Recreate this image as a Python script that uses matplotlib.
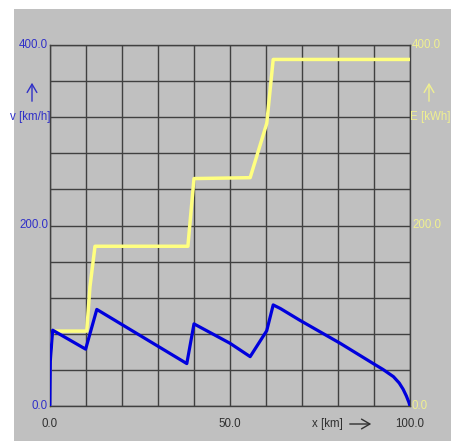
import matplotlib
matplotlib.use("Agg")
import matplotlib.pyplot as plt
from matplotlib.patches import Rectangle

# speed profile v [km/h] over position x [km]
x_v = [0, 0.1, 0.75, 9.9, 13, 38, 40, 50, 55.6, 60.2, 62, 64, 69.4, 80.6, 89.8,
       92.5, 95.4, 97, 98.1, 99, 99.7, 100]
v = [0, 50, 84, 63, 107, 47, 91, 69.5, 54.7, 83.4, 112, 108, 95, 69.5, 47,
     40.5, 32.5, 25.5, 18.5, 11, 4, 0]

# energy E [kWh] over position x [km]
x_e = [0, 0.1, 0.75, 10.2, 11.1, 12.5, 38.3, 40, 55.6, 60.2, 62, 100]
e = [0, 50, 83, 83, 132, 177, 177, 252, 253, 313, 384, 384]

x_ticks = [0, 50, 100]
y_ticks = [0, 200, 400]

W, H = 451, 441
bg = "#c0c0c0"
blue = "#0000dd"
yellow = "#ffff80"
lab_blue = "#3030c8"
lab_yel = "#f0f090"

fig = plt.figure(figsize=(W / 100, H / 100), dpi=100)
fig.patch.set_facecolor("white")
fig.patches.append(Rectangle((14 / W, 0), 1, 1 - 9 / H, transform=fig.transFigure,
                             facecolor=bg, edgecolor="none", zorder=-10))

ax = fig.add_axes([50 / W, 1 - 406 / H, 360 / W, 361 / H])
ax.set_facecolor(bg)
ax.set_xlim(0, 100)
ax.set_ylim(0, 400)
ax.set_xticks([i * 10 for i in range(11)])
ax.set_yticks([i * 40 for i in range(11)])
ax.tick_params(length=0, labelbottom=False, labelleft=False)
ax.grid(True, color="#404040", linewidth=1)
for s in ax.spines.values():
    s.set_color("#404040")
    s.set_linewidth(1)

ax.plot(x_e, e, color=yellow, linewidth=2.5, zorder=3)
ax.plot(x_v, v, color=blue, linewidth=2.3, zorder=4)

font = ["Liberation Sans", "DejaVu Sans"]
fs = 8.3
arrow = "->,head_length=0.6,head_width=0.35"

def px(xp, yp):
    return xp / W, 1 - yp / H

def draw_arrow(x0, y0, x1, y1, color):
    ax.annotate("", xy=(x1, H - y1), xytext=(x0, H - y0), xycoords="figure pixels",
                textcoords="figure pixels", annotation_clip=False,
                arrowprops=dict(arrowstyle=arrow, color=color, lw=1))

# axis value labels
for t in y_ticks:
    yp = 406 - t * 361 / 400
    fig.text(*px(48, yp), f"{t:.1f}", color=lab_blue, fontsize=fs, family=font,
             ha="right", va="center")
    fig.text(*px(412, yp), f"{t:.1f}", color=lab_yel, fontsize=fs, family=font,
             ha="left", va="center")

for t in x_ticks:
    fig.text(*px(50 + t * 3.6, 424), f"{t:.1f}", color="#303030", fontsize=fs,
             family=font, ha="center", va="center")

# axis titles with arrows
fig.text(*px(312, 424), "x [km]", color="#303030", fontsize=fs, family=font,
         ha="left", va="center")
draw_arrow(347, 424, 374, 424, "#303030")

draw_arrow(32, 104, 32, 80, lab_blue)
fig.text(*px(50, 117), "v [km/h]", color=lab_blue, fontsize=fs, family=font,
         ha="right", va="center")

draw_arrow(429, 104, 429, 80, lab_yel)
fig.text(*px(410, 117), "E [kWh]", color=lab_yel, fontsize=fs, family=font,
         ha="left", va="center")

fig.savefig("out.png", dpi=100, facecolor=fig.get_facecolor())
